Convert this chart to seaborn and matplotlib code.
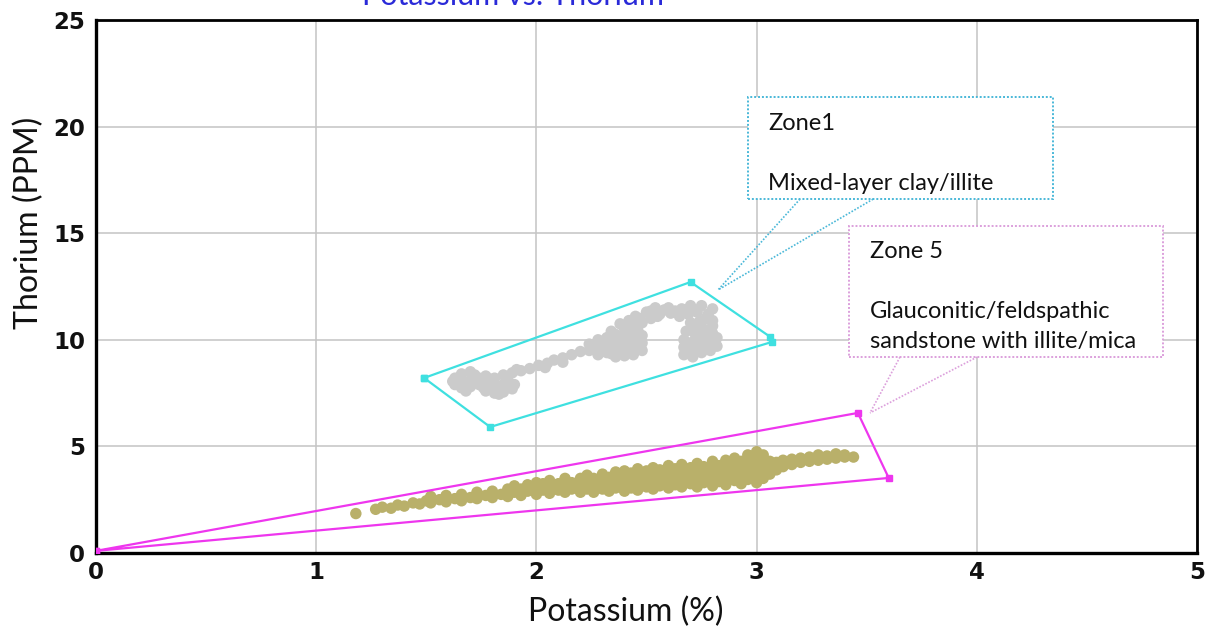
import matplotlib
matplotlib.use("Agg")
import matplotlib.pyplot as plt
import seaborn as sns
import pandas as pd
from matplotlib.patches import Rectangle

# ---------------- data ----------------
title = "Potassium vs. Thorium"
x_label = "Potassium (%)"
y_label = "Thorium (PPM)"
x_ticks = [0, 1, 2, 3, 4, 5]
y_ticks = [0, 5, 10, 15, 20, 25]

# Zone 5 cluster (olive): (potassium, [thorium values at that potassium])
zone5_cols = [
    (1.18, [1.85]), (1.27, [2.05]), (1.30, [2.15]), (1.34, [2.1]), (1.37, [2.25]),
    (1.40, [2.2]), (1.44, [2.35]), (1.47, [2.3]), (1.50, [2.45]), (1.52, [2.35, 2.65]),
    (1.56, [2.5]), (1.59, [2.4, 2.7]), (1.63, [2.55]), (1.66, [2.45, 2.75]), (1.70, [2.6]),
    (1.73, [2.55, 2.85]), (1.77, [2.7]), (1.80, [2.6, 2.9]), (1.84, [2.75]), (1.87, [2.65, 3.0]),
    (1.90, [2.85, 3.15]), (1.93, [2.7, 3.0]), (1.96, [2.9, 3.2]), (2.00, [2.75, 3.05, 3.3]),
    (2.03, [2.95, 3.25]), (2.06, [2.8, 3.1, 3.4]), (2.10, [2.95, 3.25]), (2.13, [2.85, 3.15, 3.5]),
    (2.16, [3.0, 3.3]), (2.20, [2.85, 3.15, 3.5]), (2.23, [3.0, 3.35, 3.65]),
    (2.26, [2.85, 3.2, 3.5]), (2.30, [3.0, 3.35, 3.7]), (2.33, [2.9, 3.2, 3.55]),
    (2.36, [3.05, 3.4, 3.8]), (2.40, [2.9, 3.25, 3.6, 3.85]), (2.43, [3.05, 3.45, 3.75]),
    (2.46, [2.95, 3.3, 3.65, 3.95]), (2.50, [3.1, 3.5, 3.85]), (2.53, [3.0, 3.35, 3.7, 4.0]),
    (2.56, [3.15, 3.55, 3.9]), (2.60, [3.05, 3.4, 3.75, 4.1]), (2.63, [3.2, 3.6, 3.95]),
    (2.66, [3.1, 3.45, 3.8, 4.15]), (2.70, [3.25, 3.65, 4.0]), (2.73, [3.1, 3.5, 3.85, 4.2]),
    (2.76, [3.3, 3.7, 4.05]), (2.80, [3.15, 3.55, 3.9, 4.3]), (2.83, [3.35, 3.75, 4.1]),
    (2.86, [3.2, 3.6, 3.95, 4.35]), (2.90, [3.4, 3.8, 4.2, 4.45]), (2.93, [3.25, 3.6, 4.0, 4.3]),
    (2.96, [3.45, 3.85, 4.25, 4.6]), (3.00, [3.3, 3.65, 4.05, 4.45, 4.75]),
    (3.03, [3.5, 3.9, 4.3, 4.6]), (3.06, [3.7, 4.0, 4.3]), (3.09, [3.9, 4.25]),
    (3.12, [4.05, 4.35]), (3.16, [4.15, 4.4]), (3.20, [4.25, 4.45]), (3.24, [4.3, 4.5]),
    (3.28, [4.35, 4.6]), (3.32, [4.4, 4.55]), (3.36, [4.45, 4.65]), (3.40, [4.5, 4.6]),
    (3.44, [4.5]),
]

# Zone 1 cluster (grey)
zone1_cols = [
    (1.62, [8.05]), (1.63, [7.9, 8.2]), (1.66, [7.75, 8.05, 8.4]), (1.68, [7.6]),
    (1.70, [7.8, 8.1, 8.5]), (1.72, [8.35]), (1.74, [7.9, 8.2]), (1.76, [7.75]),
    (1.77, [7.6, 8.0, 8.3]), (1.79, [8.15]), (1.81, [7.5, 7.85, 8.2]), (1.83, [7.45]),
    (1.85, [7.55, 7.9, 8.35]), (1.87, [8.1]), (1.89, [7.7, 8.45]), (1.90, [7.9]),
    (1.91, [8.6]), (1.93, [8.55]), (1.97, [8.65]), (2.01, [8.8]), (2.04, [8.7]),
    (2.05, [8.9]), (2.08, [9.05]), (2.12, [8.95, 9.15]), (2.16, [9.3]), (2.20, [9.45]),
    (2.24, [9.5, 9.8]), (2.26, [9.65]), (2.28, [9.3, 9.65, 10.0]), (2.30, [9.5, 9.9]),
    (2.32, [9.4, 9.75, 10.1]), (2.34, [9.35, 10.4]), (2.36, [9.2, 9.55, 9.9, 10.25]),
    (2.38, [9.75, 10.75]), (2.40, [9.25, 9.6, 9.95, 10.3, 10.55]),
    (2.42, [9.45, 10.1, 10.9]), (2.44, [9.3, 9.65, 10.0, 10.3, 10.65]), (2.45, [11.1]),
    (2.46, [9.75, 10.45]), (2.47, [11.0]), (2.48, [9.5, 9.85, 10.2, 10.8]), (2.50, [11.3]),
    (2.52, [11.0, 11.35]), (2.54, [11.5]), (2.55, [11.1]), (2.56, [11.2]), (2.58, [11.4]),
    (2.60, [11.5]), (2.61, [11.25]), (2.63, [11.35]), (2.65, [11.1]), (2.66, [11.45]),
    (2.67, [9.3, 9.65, 10.0]), (2.68, [10.4]), (2.69, [9.75, 11.2]), (2.70, [10.8, 11.6]),
    (2.71, [9.2, 9.55, 9.9]), (2.72, [10.3, 10.65]), (2.73, [10.0, 11.3]),
    (2.74, [10.85]), (2.75, [9.4, 9.75, 11.6]), (2.76, [10.1, 10.5]),
    (2.77, [9.6, 11.0]), (2.78, [10.35, 11.2]), (2.79, [9.5, 9.9]),
    (2.80, [10.3, 10.65, 10.9, 11.45]), (2.82, [9.7, 10.1]),
]

# Zone outlines (potassium, thorium vertices)
zone1_poly_k = [1.49, 2.70, 3.06, 3.07, 1.79, 1.49]
zone1_poly_th = [8.21, 12.71, 10.15, 9.9, 5.91, 8.21]
zone5_poly_k = [0.0, 3.46, 3.60, 0.0]
zone5_poly_th = [0.1, 6.57, 3.52, 0.1]

zone1_text = ["Zone1", "Mixed-layer clay/illite"]
zone5_text = ["Zone 5", "Glauconitic/feldspathic", "sandstone with illite/mica"]

# ---------------- build frames ----------------
rows = []
for k, ths in zone5_cols:
    for t in ths:
        rows.append({"K": k, "Th": t, "zone": "Zone 5"})
for k, ths in zone1_cols:
    for t in ths:
        rows.append({"K": k, "Th": t, "zone": "Zone 1"})
df = pd.DataFrame(rows)

# ---------------- figure ----------------
sns.set_theme(style="whitegrid")
plt.rcParams["font.family"] = ["DejaVu Sans"]

fig = plt.figure(figsize=(12.07, 6.31), dpi=100)
ax = fig.add_axes([96 / 1207, 1 - 553 / 631, (1197 - 96) / 1207, (553 - 20) / 631])
ax.set_facecolor("white")

sns.scatterplot(data=df, x="K", y="Th", hue="zone",
                palette={"Zone 5": "#b9b06a", "Zone 1": "#cbcbcb"},
                s=68, linewidth=0, alpha=1.0, legend=False, ax=ax, zorder=3)

cyan = "#3fe0e0"
magenta = "#ee36ee"
ax.plot(zone1_poly_k, zone1_poly_th, color=cyan, lw=1.6, marker="s", ms=5, zorder=4)
ax.plot(zone5_poly_k, zone5_poly_th, color=magenta, lw=1.6, marker="s", ms=5, zorder=4)

# callout boxes
ax.add_patch(Rectangle((2.961, 16.6), 4.346 - 2.961, 21.39 - 16.6, fill=True,
                       facecolor="white", edgecolor="#4ab8d8", lw=1.4,
                       linestyle=(0, (1, 1)), zorder=5))
ax.add_patch(Rectangle((3.42, 9.19), 4.846 - 3.42, 15.34 - 9.19, fill=True,
                       facecolor="white", edgecolor="#dca0dc", lw=1.4,
                       linestyle=(0, (1, 1)), zorder=5))
# leaders
for xs in (3.197, 3.529):
    ax.plot([xs, 2.825], [16.6, 12.34], color="#4ab8d8", lw=1.2,
            linestyle=(0, (1, 1)), zorder=5)
for xs in (3.651, 4.001):
    ax.plot([xs, 3.515], [9.19, 6.57], color="#dca0dc", lw=1.2,
            linestyle=(0, (1, 1)), zorder=5)

cfont = dict(family="Lato", fontsize=17, color="#111111", va="center", ha="left", zorder=6)
ax.text(3.052, 20.16, zone1_text[0], **cfont)
ax.text(3.052, 17.35, zone1_text[1], **cfont)
ax.text(3.515, 14.12, zone5_text[0], **cfont)
ax.text(3.515, 11.35, zone5_text[1], **cfont)
ax.text(3.515, 9.9, zone5_text[2], **cfont)

ax.set_xlim(0, 5)
ax.set_ylim(0, 25)
ax.set_xticks(x_ticks)
ax.set_yticks(y_ticks)
ax.set_xticklabels([str(v) for v in x_ticks], fontsize=16.5, fontweight="bold", color="#111111")
ax.set_yticklabels([str(v) for v in y_ticks], fontsize=16.5, fontweight="bold", color="#111111")
ax.tick_params(axis="both", length=0, pad=8)
ax.tick_params(axis="x", pad=6)

ax.grid(True, color="#c4c4c4", lw=1.1)
ax.set_axisbelow(True)
for side in ["left", "bottom"]:
    ax.spines[side].set_color("black")
    ax.spines[side].set_linewidth(2.4)
for side in ["top", "right"]:
    ax.spines[side].set_color("black")
    ax.spines[side].set_linewidth(2.0)

ax.set_xlabel(x_label, family="Lato", fontsize=23, color="#111111", va="center")
ax.set_ylabel(y_label, family="Lato", fontsize=23, color="#111111", va="center")
ax.xaxis.set_label_coords(0.4815, (553 - 612) / 533)
ax.yaxis.set_label_coords(-0.061, (553 - 223) / 533)

fig.text(513 / 1207, 1 - 5 / 631, title, family="Lato", fontsize=22,
         color="#2a2ad8", ha="center", va="baseline")

fig.savefig("out.png", dpi=100, facecolor="white")
